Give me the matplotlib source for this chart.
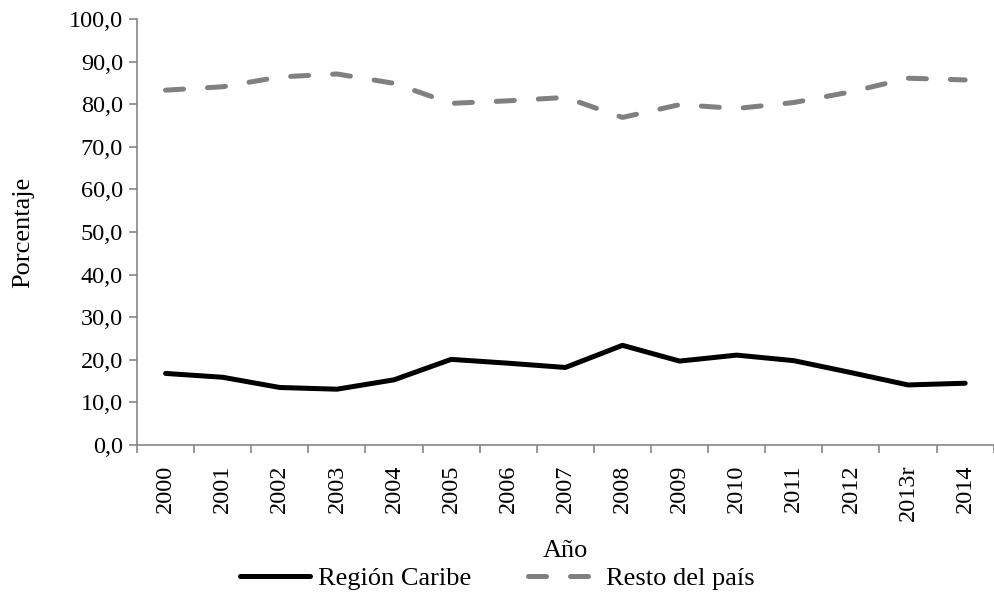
import matplotlib.pyplot as plt
import numpy as np
from matplotlib.ticker import FuncFormatter, FixedLocator

plt.rcParams['font.family'] = ['Liberation Serif', 'DejaVu Serif']

years = ['2000', '2001', '2002', '2003', '2004', '2005', '2006', '2007',
         '2008', '2009', '2010', '2011', '2012', '2013r', '2014']
caribe = [16.8, 15.9, 13.5, 13.1, 15.3, 20.1, 19.2, 18.2,
          23.4, 19.7, 21.1, 19.8, 17.0, 14.1, 14.5]
resto = [83.3, 84.1, 86.4, 87.1, 84.9, 80.2, 80.8, 81.6,
         76.9, 79.9, 79.0, 80.4, 82.9, 86.1, 85.7]

GREY_AXIS = '#868686'
FS = 17.5

fig = plt.figure(figsize=(9.95, 6.02), dpi=100)
ax = fig.add_axes([0.1377, 0.2608, 0.861, 0.7076])

x = np.arange(len(years))
ax.plot(x, caribe, color='black', lw=3.6, solid_capstyle='round',
        solid_joinstyle='round', label='Región Caribe')
ax.plot(x, resto, color='#808080', lw=3.6, dashes=(3.6, 4.8),
        dash_capstyle='round', label='Resto del país')

ax.set_xlim(-0.5, len(years) - 0.5)
ax.set_ylim(0, 100)
ax.set_yticks(np.arange(0, 101, 10))
ax.yaxis.set_major_formatter(FuncFormatter(lambda v, p: f'{v:.1f}'.replace('.', ',')))

ax.set_xticks(x)
ax.set_xticklabels(years, rotation=90, fontsize=FS)
ax.xaxis.set_minor_locator(FixedLocator(np.arange(-0.5, len(years), 1.0)))
ax.tick_params(axis='x', which='major', length=0, pad=14)
ax.tick_params(axis='x', which='minor', length=6, color=GREY_AXIS, width=1.2)
ax.tick_params(axis='y', length=6, color=GREY_AXIS, width=1.2, labelsize=FS, pad=4)

for s in ['top', 'right']:
    ax.spines[s].set_visible(False)
for s in ['left', 'bottom']:
    ax.spines[s].set_color(GREY_AXIS)
    ax.spines[s].set_linewidth(1.2)

ax.set_ylabel('Porcentaje', fontsize=19, labelpad=25)
ax.set_xlabel('Año', fontsize=19, labelpad=14)

fig.legend(loc='lower center', bbox_to_anchor=(0.5, -0.02), ncol=2,
           frameon=False, fontsize=19, handlelength=2.65, handletextpad=0.3,
           columnspacing=2.15)

fig.savefig('out.png', dpi=100)
